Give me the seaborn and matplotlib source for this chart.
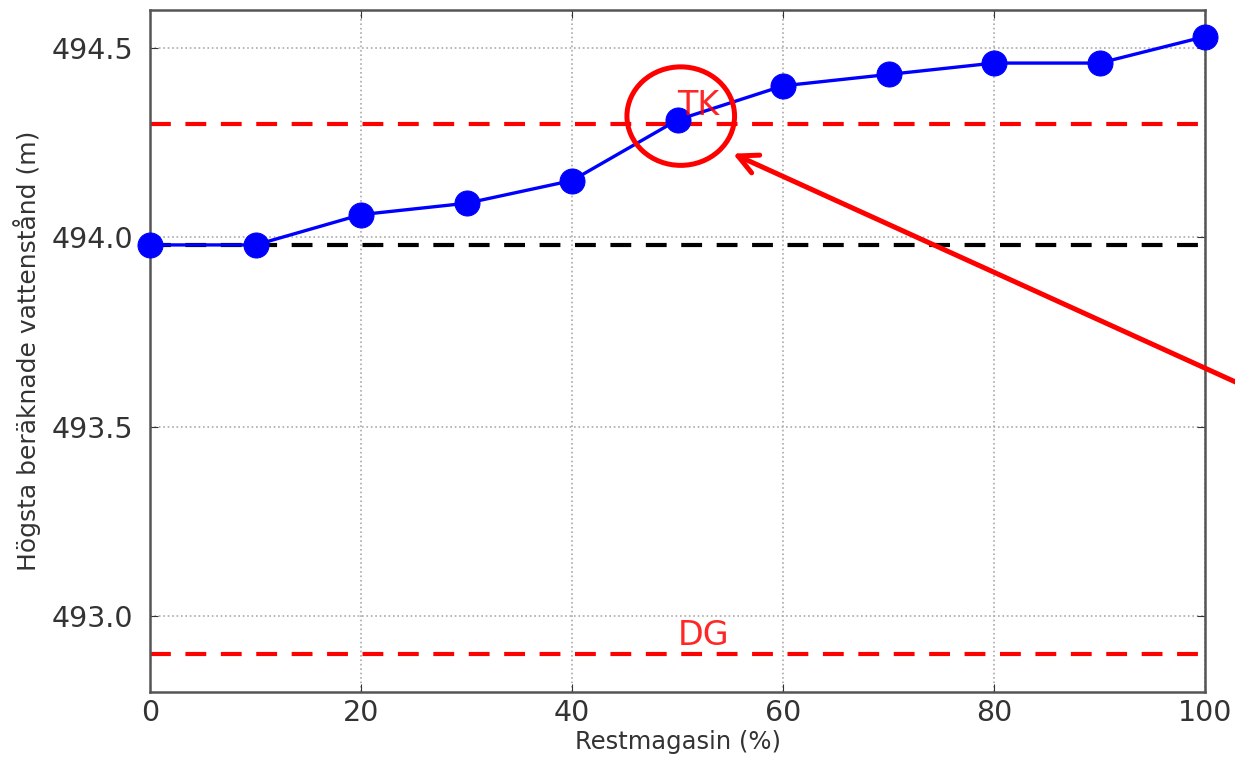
import numpy as np
import pandas as pd
import matplotlib
matplotlib.use('Agg')
import matplotlib.pyplot as plt
from matplotlib.patches import Ellipse
import seaborn as sns

# values
restmagasin = [0, 10, 20, 30, 40, 50, 60, 70, 80, 90, 100]
vattenstand = [493.98, 493.98, 494.06, 494.09, 494.15, 494.31, 494.40, 494.43, 494.46, 494.46, 494.53]
tk_level = 494.3
dg_level = 492.9
ref_level = 493.98
y_ticks = [493.0, 493.5, 494.0, 494.5]
x_ticks = [0, 20, 40, 60, 80, 100]

sns.set_style('ticks')
plt.rcParams['font.family'] = ['DejaVu Sans']

df = pd.DataFrame({'rest': restmagasin, 'niva': vattenstand})

fig = plt.figure(figsize=(12.35, 7.6), dpi=100)
ax = fig.add_axes([0.1215, 0.0895, 0.8543, 0.8973])

ax.axhline(tk_level, color='red', lw=3, dashes=(5, 3.5), zorder=2)
ax.axhline(dg_level, color='red', lw=3, dashes=(5, 3.5), zorder=2)
ax.axhline(ref_level, color='black', lw=3, dashes=(5, 3.5), zorder=2)

sns.lineplot(data=df, x='rest', y='niva', ax=ax, color='blue', lw=2.4,
             marker='o', markersize=18, markeredgecolor='blue', zorder=3,
             clip_on=False)

ax.text(50, tk_level + 0.005, 'TK', color='red', fontsize=24, va='bottom', ha='left', alpha=0.85)
ax.text(50, dg_level + 0.005, 'DG', color='red', fontsize=24, va='bottom', ha='left', alpha=0.85)

# circle and arrow marking the TK crossing
ax.add_patch(Ellipse((50.3, 494.32), 10.2, 0.26, fill=False, edgecolor='red', lw=3.6, zorder=4))
ax.annotate('', xy=(55.0, 494.224), xycoords='data',
            xytext=(1.005, 0.494), textcoords='figure fraction',
            arrowprops=dict(arrowstyle='->,head_length=1.4,head_width=0.7', color='red', lw=3.6),
            annotation_clip=False)

ax.set_xlim(0, 100)
ax.set_ylim(492.8, 494.6)
ax.set_xticks(x_ticks)
ax.set_yticks(y_ticks)
ax.set_yticklabels([f'{v:.1f}' for v in y_ticks])
ax.grid(True, linestyle=':', color='#aaaaaa', lw=1.2)
ax.tick_params(direction='in', top=True, right=True, labelsize=20.5, colors='#333333', length=6, pad=12)
ax.tick_params(axis='x', pad=5)
for sp in ax.spines.values():
    sp.set_color('#555555')
    sp.set_linewidth(1.8)

ax.set_xlabel('Restmagasin (%)', fontsize=17.5, color='#333333', labelpad=2)
ax.set_ylabel('Högsta beräknade vattenstånd (m)', fontsize=18, color='#333333', labelpad=8)

fig.savefig('out.png', dpi=100)
